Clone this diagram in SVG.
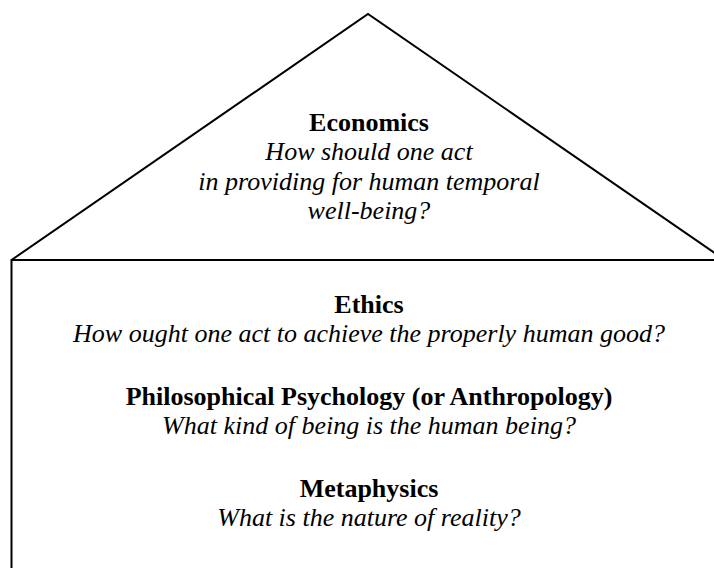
<svg xmlns="http://www.w3.org/2000/svg" width="714" height="568" viewBox="0 0 714 568">
<style>
.ln{fill:none;stroke:#000;stroke-width:2;stroke-linejoin:miter}
.t{font-family:"Liberation Serif","Times New Roman",serif;font-size:26px;fill:#000;text-anchor:middle}
.b{font-weight:bold}
.i{font-style:italic}
</style>
<rect width="714" height="568" fill="#fff"/>
<g id="roof">
<polyline class="ln" points="11.5,260 368,14 725,260"/>
<text class="t b" x="369" y="131">Economics</text>
<text class="t i" x="369" y="160">How should one act</text>
<text class="t i" x="369" y="190">in providing for human temporal</text>
<text class="t i" x="369" y="219">well-being?</text>
</g>
<g id="house">
<polyline class="ln" points="11.5,570 11.5,260 716,260"/>
</g>
<g id="ethics">
<text class="t b" x="369" y="313">Ethics</text>
<text class="t i" x="369" y="342">How ought one act to achieve the properly human good?</text>
</g>
<g id="psychology">
<text class="t b" x="369" y="405">Philosophical Psychology (or Anthropology)</text>
<text class="t i" x="369" y="434">What kind of being is the human being?</text>
</g>
<g id="metaphysics">
<text class="t b" x="369" y="497">Metaphysics</text>
<text class="t i" x="369" y="526">What is the nature of reality?</text>
</g>
</svg>
